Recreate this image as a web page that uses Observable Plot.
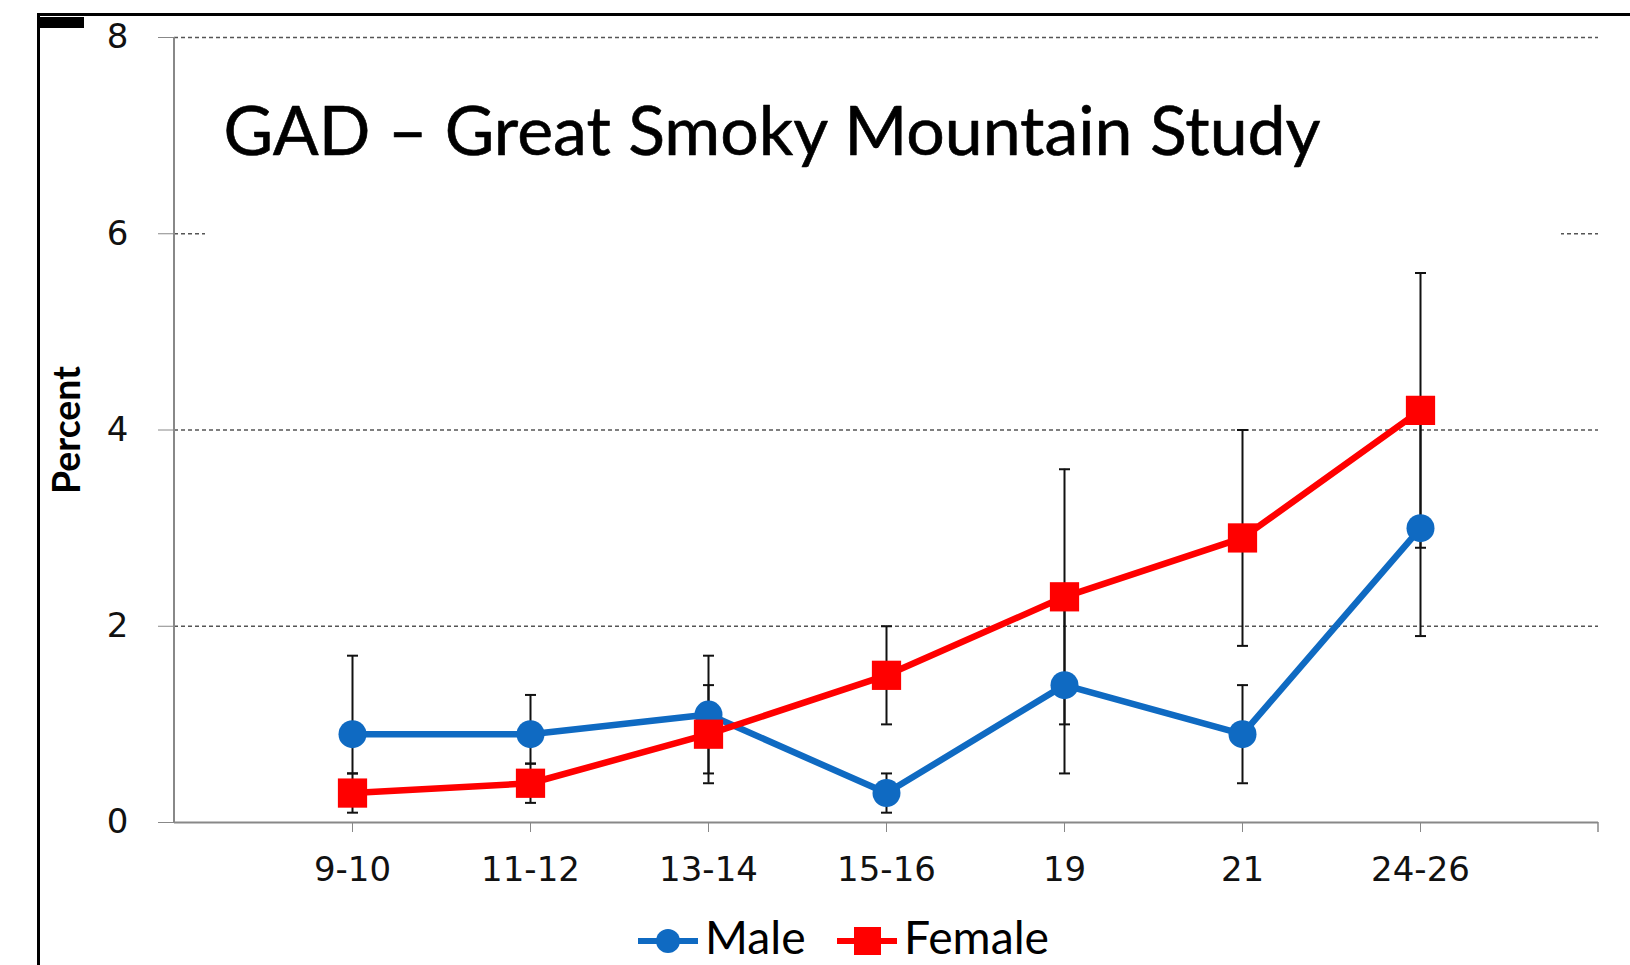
<!DOCTYPE html>
<html><head><meta charset="utf-8">
<script src="https://cdn.jsdelivr.net/npm/d3@7"></script>
<script src="https://cdn.jsdelivr.net/npm/@observablehq/plot@0.6"></script>
<style>
html,body{margin:0;padding:0;background:#fff;}
#wrap{position:relative;width:1630px;height:965px;overflow:hidden;background:#fff;}
#wrap svg{position:absolute;left:0;top:0;}
</style></head><body><div id="wrap"></div>
<script>
// ---- data ----
const ages = ["9-10", "11-12", "13-14", "15-16", "19", "21", "24-26"];
const maleValues = [0.9, 0.9, 1.1, 0.3, 1.4, 0.9, 3.0];
const maleLow = [0.5, 0.6, 0.5, 0.1, 0.5, 0.4, 1.9];
const maleHigh = [1.7, 1.3, 1.7, 0.5, 2.3, 1.4, 4.2];
const femaleValues = [0.3, 0.4, 0.9, 1.5, 2.3, 2.9, 4.2];
const femaleLow = [0.1, 0.2, 0.4, 1.0, 1.0, 1.8, 2.8];
const femaleHigh = [0.5, 0.6, 1.4, 2.0, 3.6, 4.0, 5.6];
const yTicks = [0, 2, 4, 6, 8];
const gridValues = [2, 4, 6, 8];
const titleText = "GAD – Great Smoky Mountain Study";
const yLabelText = "Percent";
const seriesNames = ["Male", "Female"];
const seriesColors = ["#0F6AC2", "#FF0000"];

// ---- helpers ----
const ctx = document.createElement("canvas").getContext("2d");
function fitSize(text, family, weight, target) {
  ctx.font = `${weight} 100px ${family}`;
  return 100 * target / ctx.measureText(text).width;
}
const capSymbol = {draw(context) { context.moveTo(-5.5, 0); context.lineTo(5.5, 0); }};

const male = ages.map((a, i) => ({age: a, series: "Male", value: maleValues[i], low: maleLow[i], high: maleHigh[i]}));
const female = ages.map((a, i) => ({age: a, series: "Female", value: femaleValues[i], low: femaleLow[i], high: femaleHigh[i]}));
const all = male.concat(female);

const titleSize = fitSize(titleText, "Lato", "normal", 1099);
const labelSize = fitSize(yLabelText, "Lato", "bold", 128);

const plot = Plot.plot({
  width: 1630, height: 965,
  marginLeft: 174, marginRight: 32, marginTop: 37, marginBottom: 143,
  x: {type: "point", domain: ages, padding: 1},
  y: {domain: [0, 8]},
  style: {background: "transparent", fontFamily: "DejaVu Sans", color: "#111"},
  marks: [
    Plot.ruleY(gridValues, {stroke: "#555", strokeWidth: 1.3, strokeDasharray: "4,3", className: "grid"}),
    Plot.text([titleText], {frameAnchor: "top-left", dx: 49, dy: 69, textAnchor: "start", lineAnchor: "top",
      fontSize: titleSize, fontFamily: "Lato", fill: "#000", stroke: "#000", strokeWidth: 0.6}),
    Plot.text([yLabelText], {frameAnchor: "left", dx: -106, rotate: -90, textAnchor: "middle", lineAnchor: "middle",
      fontWeight: "bold", fontSize: labelSize, fontFamily: "Lato", fill: "#000"}),
    Plot.axisY({ticks: yTicks, tickSize: 16, tickPadding: 30, fontSize: 34, stroke: "#888", label: null,
      tickFormat: d => String(d)}),
    Plot.axisX({tickSize: 10, tickPadding: 24, fontSize: 34, stroke: "#888", label: null}),
    Plot.ruleY([0], {stroke: "#888", strokeWidth: 2}),
    Plot.ruleX(all, {x: "age", y1: "low", y2: "high", stroke: "#111", strokeWidth: 2}),
    Plot.dot(all, {x: "age", y: "low", symbol: capSymbol, stroke: "#111", strokeWidth: 2, fill: "none"}),
    Plot.dot(all, {x: "age", y: "high", symbol: capSymbol, stroke: "#111", strokeWidth: 2, fill: "none"}),
    Plot.line(male, {x: "age", y: "value", stroke: seriesColors[0], strokeWidth: 6.5}),
    Plot.dot(male, {x: "age", y: "value", r: 14, fill: seriesColors[0], symbol: "circle"}),
    Plot.line(female, {x: "age", y: "value", stroke: seriesColors[1], strokeWidth: 6.5}),
    Plot.dot(female, {x: "age", y: "value", r: 16.5, fill: seriesColors[1], symbol: "square"})
  ]
});
document.getElementById("wrap").appendChild(plot);

// ---- decorations from scales ----
const xs = plot.scale("x"), ys = plot.scale("y");
const [x0, x1] = xs.range;
const ns = "http://www.w3.org/2000/svg";
function el(tag, attrs, parent) {
  const e = document.createElementNS(ns, tag);
  for (const k in attrs) e.setAttribute(k, attrs[k]);
  if (parent) parent.appendChild(e);
  return e;
}
// white title box covering the middle of the 6 gridline
const grid = plot.querySelector(".grid");
const box = el("rect", {x: x0 + 31, y: ys.apply(6) - 40, width: (x1 - 37) - (x0 + 31), height: 80, fill: "#fff"});
grid.after(box);
// y axis line and right-end tick
el("line", {x1: x0, x2: x0, y1: ys.apply(8), y2: ys.apply(0), stroke: "#888", "stroke-width": 2}, plot);
el("line", {x1: x1, x2: x1, y1: ys.apply(0), y2: ys.apply(0) + 10, stroke: "#888", "stroke-width": 1.5}, plot);
// outer frame
el("line", {x1: 38.5, x2: 38.5, y1: 13, y2: 965, stroke: "#000", "stroke-width": 3}, plot);
el("line", {x1: 37, x2: 1630, y1: 14.5, y2: 14.5, stroke: "#000", "stroke-width": 3}, plot);
el("rect", {x: 38, y: 17, width: 46, height: 11, fill: "#000"}, plot);

// ---- legend ----
const legendSize = fitSize("Female", "Lato", "normal", 145);
const lg = el("g", {"text-anchor": "start"}, plot);
const legendY = 941;
const legendX = [638, 837];
seriesNames.forEach((name, i) => {
  const lx = legendX[i];
  el("line", {x1: lx, x2: lx + 60, y1: legendY, y2: legendY, stroke: seriesColors[i], "stroke-width": 6}, lg);
  if (i === 0) el("circle", {cx: lx + 30, cy: legendY, r: 12, fill: seriesColors[i]}, lg);
  else el("rect", {x: lx + 17, y: legendY - 14, width: 27, height: 28, fill: seriesColors[i]}, lg);
  const t = el("text", {x: lx + 67, y: 954, "text-anchor": "start", "font-family": "Lato",
    "font-size": legendSize, fill: "#000"}, lg);
  t.textContent = name;
});
</script></body></html>
